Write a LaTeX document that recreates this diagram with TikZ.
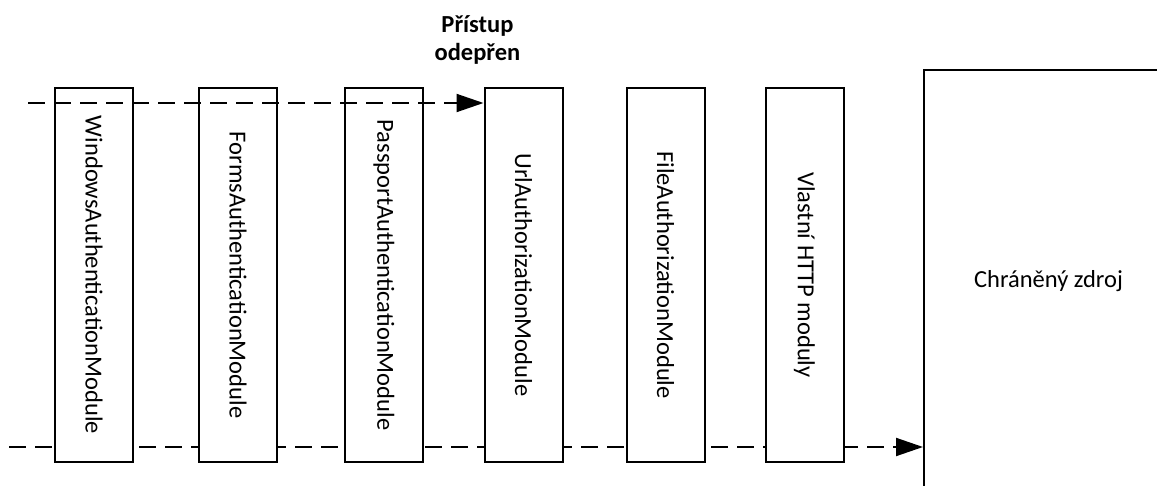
\documentclass[tikz,border=0pt]{standalone}
\usepackage{fontspec}
\setmainfont{Carlito}
\usetikzlibrary{arrows.meta}

\tikzset{
  modbox/.style={draw=black, line width=2pt, fill=white,
    minimum width=78pt, minimum height=374pt, inner sep=0pt,
    font=\fontsize{24.5}{29}\selectfont},
  resbox/.style={draw=black, line width=2pt, fill=white,
    minimum width=249pt, minimum height=422pt, inner sep=0pt,
    anchor=north west, font=\fontsize{24.5}{29}\selectfont},
  flow/.style={line width=2pt, dash pattern=on 17pt off 9pt,
    -{Triangle[length=27pt,width=18pt]}},
  note/.style={font=\fontsize{24.5}{28}\selectfont\bfseries, align=center}
}

\begin{document}
\begin{tikzpicture}[x=1pt,y=-1pt]
  \useasboundingbox (0,0) rectangle (1157,486);
  \clip (0,0) rectangle (1157,486);

  % request path that reaches the protected resource (runs behind the modules)
  \coordinate (s2) at (9,447);
  \node[resbox] (res) at (923,69) {Chráněný zdroj};
  \draw[flow] (s2) -- (s2 -| res.west);

  % HTTP modules of the pipeline
  \node[modbox] (m1) at (94,275)    {\rotatebox{-90}{WindowsAuthenticationModule}};
  \node[modbox] (m2) at (238,275)   {\rotatebox{-90}{FormsAuthenticationModule}};
  \node[modbox] (m3) at (384,275)   {\rotatebox{-90}{PassportAuthenticationModule}};
  \node[modbox] (m4) at (523.5,275) {\rotatebox{-90}{UrlAuthorizationModule}};
  \node[modbox] (m5) at (665.5,275) {\rotatebox{-90}{FileAuthorizationModule}};
  \node[modbox] (m6) at (804.5,275) {\rotatebox{-90}{Vlastní HTTP moduly}};

  % request rejected by the URL authorization module
  \coordinate (s1) at (28,103);
  \draw[flow] (s1) -- (s1 -| m4.west);
  \node[note] (deny) at (477.5,39.5) {Přístup\\odepřen};
\end{tikzpicture}
\end{document}
